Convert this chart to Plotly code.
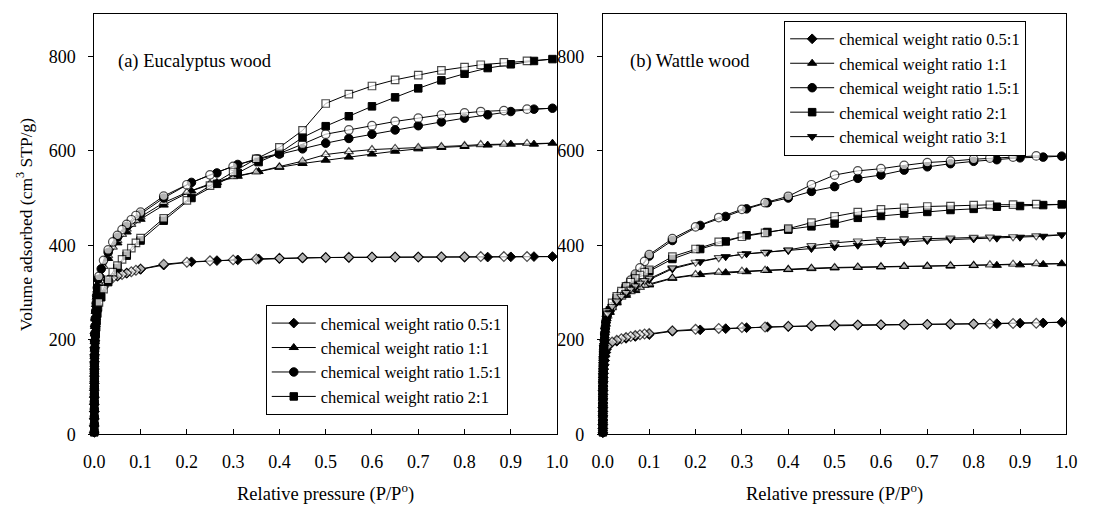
import plotly.graph_objects as go

# ---------------- data ----------------
# adsorption relative pressures (shared by all series)
ADS_P = [0.000001, 0.000003, 0.00001, 0.00002, 0.00004, 0.00007, 0.0001, 0.00015, 0.0002,
         0.0003, 0.0004, 0.0006, 0.0008, 0.001, 0.0015, 0.002, 0.003, 0.004, 0.005, 0.0065,
         0.008,
         0.015, 0.03, 0.05, 0.07, 0.10, 0.15,
         0.21, 0.265, 0.31, 0.355, 0.40, 0.45, 0.50, 0.55, 0.60, 0.65, 0.70, 0.75, 0.80,
         0.85, 0.90, 0.95, 0.99]
# desorption relative pressures (shared by all series)
DES_P = [0.99, 0.935, 0.885, 0.835, 0.80, 0.75, 0.70, 0.65, 0.60, 0.55, 0.50, 0.45, 0.40,
         0.35, 0.30, 0.25, 0.20, 0.15, 0.10, 0.09, 0.08, 0.07, 0.06, 0.05, 0.04, 0.03, 0.02,
         0.01]

LABELS_A = ["chemical weight ratio 0.5:1", "chemical weight ratio 1:1",
            "chemical weight ratio 1.5:1", "chemical weight ratio 2:1"]
LABELS_B = ["chemical weight ratio 0.5:1", "chemical weight ratio 1:1",
            "chemical weight ratio 1.5:1", "chemical weight ratio 2:1",
            "chemical weight ratio 3:1"]

# (a) Eucalyptus wood
a_ads_05 = [4, 18, 33, 48, 63, 78, 93, 108, 123, 138, 153, 168, 183, 198, 213, 228, 243, 257, 270, 282, 292,
            303, 326, 335, 341, 349, 358,
            365, 367.5, 369, 371, 372, 373, 374, 374, 375, 375, 375, 375, 375, 375, 375.5, 376, 376]
a_des_05 = [376, 376, 376, 376, 375.5, 375.5, 375, 375, 375, 374.5, 374, 373.6, 372.5, 371, 369, 367, 364,
            360, 350, 347, 344, 341, 338, 335, 331, 326, 312, 290]
a_ads_10 = [5, 20, 36, 52, 68, 84, 100, 116, 132, 148, 164, 180, 196, 212, 228, 244, 260, 275, 290, 305, 318,
            335, 372, 405, 428, 455, 485,
            515, 533, 546, 556, 565, 573, 580, 586.5, 593, 599, 604, 607, 609, 612, 614, 614, 616]
a_des_10 = [616, 615.5, 614, 613, 611, 609, 607, 605, 602.5, 598, 592, 578, 566, 555, 545, 530, 512,
            490, 460, 452, 444, 434, 423, 410, 396, 378, 355, 320]
a_ads_15 = [5, 21, 37, 53, 69, 85, 101, 117, 133, 149, 165, 181, 197, 213, 229, 245, 261, 277, 293, 310, 328,
            350, 385, 417, 440, 466, 500,
            533, 553, 571, 582, 593, 604, 616, 626, 635, 644, 653, 661, 669, 676, 683, 688, 690]
a_des_15 = [690, 688, 685, 683, 680, 676, 669, 662, 653, 644, 635, 614, 594, 583, 567, 549, 528,
            504, 470, 463, 454, 444, 433, 421, 407, 390, 368, 334]
a_ads_20 = [4, 17, 30, 43, 56, 69, 82, 95, 108, 121, 134, 147, 160, 173, 186, 199, 212, 226, 240, 255, 268,
            290, 322, 352, 378, 410, 452,
            500, 530, 553, 576, 595, 628, 652, 673, 694, 713, 732, 749, 763, 775, 783, 790, 794]
a_des_20 = [794, 790, 787, 782, 777, 770, 760, 750, 737, 720, 700, 643, 607, 583, 555, 526, 495,
            457, 415, 405, 394, 382, 370, 357, 343, 327, 307, 279]

# (b) Wattle wood
b_ads_05 = [3, 12, 21, 30, 39, 48, 57, 66, 75, 84, 93, 102, 111, 120, 129, 138, 147, 156, 165, 173, 180,
            190, 197, 203, 207, 211, 218,
            221, 223.5, 225.5, 227, 228, 229, 230, 231, 231.5, 232, 232.5, 233, 233.5, 234, 235, 235.5, 237]
b_des_05 = [237, 235, 234.5, 234, 233.5, 233, 232.5, 232, 232, 231.5, 231, 229.5, 228.5, 227, 226, 224, 222,
            219, 213, 212, 210.5, 209, 207, 205, 202, 199, 195, 186]
b_ads_10 = [4, 16, 28, 40, 52, 64, 76, 88, 100, 112, 124, 136, 148, 160, 172, 184, 196, 208, 220, 233, 245,
            258, 278, 294, 304, 316, 330,
            338, 342, 344, 346.5, 348.5, 350.5, 352, 353, 354, 355, 355.5, 356, 357, 357.5, 358.5, 359.5, 361]
b_des_10 = [361, 361, 360, 358.5, 357.5, 357, 356, 355.5, 355, 354, 353, 351.5, 349, 347, 345, 342.5, 338,
            331, 318, 315, 311, 307, 302, 297, 290, 281, 268, 250]
b_ads_15 = [4, 16, 28, 40, 52, 64, 76, 88, 100, 112, 124, 136, 148, 160, 172, 185, 198, 211, 224, 237, 250,
            262, 284, 310, 336, 377, 410,
            442, 461, 477, 490, 500, 514, 524, 541.6, 548.6, 559, 566, 572.6, 577.6, 581, 585, 586.5, 588.6]
b_des_15 = [588.6, 589, 586.5, 584.5, 582, 578, 575, 569, 562, 557.5, 548.6, 528, 503.6, 490, 476, 458.6, 439,
            414, 380, 366, 352, 339, 326, 313, 300, 287, 270, 255]
b_ads_20 = [4, 16, 28, 40, 52, 64, 76, 88, 100, 112, 124, 136, 148, 160, 172, 185, 198, 211, 224, 237, 250,
            262, 289, 310, 327, 345, 371,
            392, 408, 421, 428, 433, 440, 446, 458, 462, 467, 470.5, 474.6, 477, 481.5, 483, 485, 486.4]
b_des_20 = [486.4, 487, 486, 485.5, 485, 483, 482, 479, 476, 470, 461, 448, 435, 426, 418, 407, 392,
            376, 348, 343, 337, 330, 322, 313, 303, 292, 278, 258]
b_ads_30 = [4, 16, 28, 40, 52, 64, 76, 88, 100, 112, 124, 136, 148, 160, 172, 184, 196, 208, 220, 233, 245,
            257, 279, 297, 311, 327, 350,
            365, 375.8, 382, 385, 389, 393, 396.5, 400, 404, 407, 410, 412, 413.5, 415, 417, 419, 422]
b_des_30 = [422, 420, 418, 417, 416.5, 415, 414, 413.5, 412, 409, 405, 399, 390, 385, 380.7, 373.7, 364,
            352, 330, 325, 320, 314, 307, 300, 292, 282, 270, 255]

X_TICKS = [0.0, 0.1, 0.2, 0.3, 0.4, 0.5, 0.6, 0.7, 0.8, 0.9, 1.0]
X_TICKTEXT = ["0.0", "0.1", "0.2", "0.3", "0.4", "0.5", "0.6", "0.7", "0.8", "0.9", "1.0"]
Y_TICKS = [0, 200, 400, 600, 800]

# ---------------- style ----------------
FONT = "Liberation Serif, Times New Roman, serif"
SYMBOLS = ["diamond", "triangle-up", "circle", "square", "triangle-down"]
SIZES = [7.5, 8, 8.5, 7.5, 8]

fig = go.Figure()


def add_series(xa, ya, xd, yd, label, idx, xref, yref, legend):
    sym = SYMBOLS[idx]
    s = SIZES[idx]
    fig.add_trace(go.Scatter(
        x=xa, y=ya, mode="lines+markers", name=label, legend=legend,
        xaxis=xref, yaxis=yref, cliponaxis=False,
        line=dict(color="black", width=1),
        marker=dict(symbol=sym, size=s, color="black", line=dict(color="black", width=1)),
    ))
    sizes = [0] + [s] * (len(xd) - 1)
    fig.add_trace(go.Scatter(
        x=xd, y=yd, mode="lines+markers", showlegend=False,
        xaxis=xref, yaxis=yref, cliponaxis=False,
        line=dict(color="black", width=1),
        marker=dict(symbol=sym, size=sizes, color="white", line=dict(color="black", width=1.2)),
    ))


a_sets = [(a_ads_05, a_des_05), (a_ads_10, a_des_10), (a_ads_15, a_des_15), (a_ads_20, a_des_20)]
for i, (ya, yd) in enumerate(a_sets):
    add_series(ADS_P, ya, DES_P, yd, LABELS_A[i], i, "x", "y", "legend")

b_sets = [(b_ads_05, b_des_05), (b_ads_10, b_des_10), (b_ads_15, b_des_15),
          (b_ads_20, b_des_20), (b_ads_30, b_des_30)]
for i, (ya, yd) in enumerate(b_sets):
    add_series(ADS_P, ya, DES_P, yd, LABELS_B[i], i, "x2", "y2", "legend2")

W, H = 1095, 506
LX0, LX1 = 85, 557.3
RX0, RX1 = 604, 1077
YT, YB = 14, 443

xcommon = dict(range=[0, 1.0], tickvals=X_TICKS, ticktext=X_TICKTEXT, ticks="inside", ticklen=5,
               tickcolor="black", showline=True, linecolor="black", linewidth=1, mirror=True,
               showgrid=False, zeroline=False, ticklabelstandoff=11,
               tickfont=dict(family=FONT, size=18, color="black"))
ycommon = dict(range=[0, 890], tickvals=Y_TICKS, ticks="outside", ticklen=5, tickcolor="black",
               showline=True, linecolor="black", linewidth=1, mirror=True, showgrid=False,
               zeroline=False, ticklabelstandoff=9,
               tickfont=dict(family=FONT, size=18, color="black"))

legend_common = dict(bgcolor="white", bordercolor="black", borderwidth=1,
                     font=dict(family=FONT, size=16.5, color="black"),
                     xanchor="left", yanchor="top", tracegroupgap=0, itemwidth=44)

fig.update_layout(
    width=W, height=H, margin=dict(l=0, r=0, t=0, b=0),
    paper_bgcolor="white", plot_bgcolor="white",
    xaxis=dict(domain=[LX0 / W, LX1 / W], anchor="y", **xcommon),
    yaxis=dict(domain=[1 - YB / H, 1 - YT / H], anchor="x", **ycommon),
    xaxis2=dict(domain=[RX0 / W, RX1 / W], anchor="y2", **xcommon),
    yaxis2=dict(domain=[1 - YB / H, 1 - YT / H], anchor="x2", **ycommon),
    legend=dict(x=260 / W, y=1 - 311 / H, **legend_common),
    legend2=dict(x=789 / W, y=1 - 21 / H, **legend_common),
    font=dict(family=FONT, color="black"),
    annotations=[
        dict(text="(a) Eucalyptus wood", x=187.5 / W, y=1 - 63 / H, xref="paper", yref="paper",
             xanchor="center", yanchor="middle", showarrow=False, font=dict(family=FONT, size=18.5)),
        dict(text="(b) Wattle wood", x=692.5 / W, y=1 - 63 / H, xref="paper", yref="paper",
             xanchor="center", yanchor="middle", showarrow=False, font=dict(family=FONT, size=18.5)),
        dict(text="Relative pressure (P/P<sup>o</sup>)", x=(LX0 + LX1) / 2 / W, y=1 - 502 / H,
             xref="paper", yref="paper", xanchor="center", yanchor="middle", showarrow=False,
             font=dict(family=FONT, size=18.5)),
        dict(text="Relative pressure (P/P<sup>o</sup>)", x=(RX0 + RX1) / 2 / W, y=1 - 502 / H,
             xref="paper", yref="paper", xanchor="center", yanchor="middle", showarrow=False,
             font=dict(family=FONT, size=18.5)),
        dict(text="Volume adsorbed (cm<sup>3</sup> STP/g)", x=14 / W, y=1 - 229 / H,
             xref="paper", yref="paper", xanchor="center", yanchor="middle", showarrow=False,
             textangle=-90, font=dict(family=FONT, size=17.5)),
    ],
)

fig.write_html("out.html")
